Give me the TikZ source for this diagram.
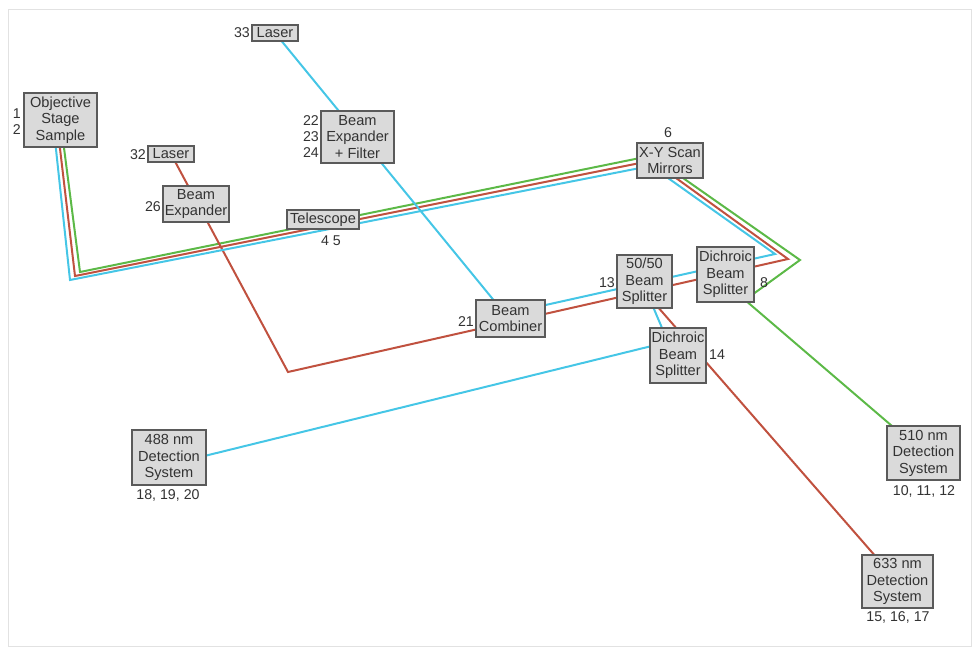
\documentclass[tikz,border=0pt]{standalone}
\usepackage{fontspec}
\setmainfont{Liberation Sans}
\usetikzlibrary{backgrounds}
\definecolor{bblue}{HTML}{45C6E6}
\definecolor{bred}{HTML}{C0513F}
\definecolor{bgreen}{HTML}{5CB947}
\definecolor{boxfill}{HTML}{DADADA}
\definecolor{boxline}{HTML}{5A5A5A}
\definecolor{txt}{HTML}{333333}
\definecolor{frame}{HTML}{E2E2E2}
\begin{document}
\begin{tikzpicture}[x=1pt,y=-1pt,
  box/.style={draw=boxline,fill=boxfill,line width=1.3pt,inner sep=0pt,align=center,text=txt,font=\fontsize{14.6}{16.5}\selectfont},
  lbl/.style={inner sep=0pt,text=txt,font=\fontsize{14.2}{16}\selectfont},
  beam/.style={line width=2pt,line join=miter}]
\useasboundingbox (0,0) rectangle (975,648);

% boxes
\node[box,minimum width=73pt,minimum height=54pt] (obj) at (60.5,120) {Objective\\Stage\\Sample};
\node[box,minimum width=46pt,minimum height=16pt] (laser33) at (275,33) {Laser};
\node[box,minimum width=73pt,minimum height=52pt] (bexf) at (357.5,137) {Beam\\Expander\\+ Filter};
\node[box,minimum width=46pt,minimum height=16pt] (laser32) at (171,154) {Laser};
\node[box,minimum width=66pt,minimum height=36pt] (bex) at (196,204) {Beam\\Expander};
\node[box,minimum width=72pt,minimum height=19pt] (tele) at (323,219.5) {Telescope};
\node[box,minimum width=66pt,minimum height=35pt] (xy) at (670,160.5) {X-Y Scan\\Mirrors};
\node[box,minimum width=55pt,minimum height=53pt] (bs) at (644.5,281.5) {50/50\\Beam\\Splitter};
\node[box,minimum width=57pt,minimum height=55pt] (dbs8) at (725.5,274.5) {Dichroic\\Beam\\Splitter};
\node[box,minimum width=69pt,minimum height=37pt] (comb) at (510.5,318.5) {Beam\\Combiner};
\node[box,minimum width=56pt,minimum height=55pt] (dbs14) at (678,355.5) {Dichroic\\Beam\\Splitter};
\node[box,minimum width=74pt,minimum height=55pt] (d488) at (169,457.5) {488 nm\\Detection\\System};
\node[box,minimum width=73pt,minimum height=54pt] (d510) at (923.5,453) {510 nm\\Detection\\System};
\node[box,minimum width=71pt,minimum height=53pt] (d633) at (897.5,581.5) {633 nm\\Detection\\System};

% labels
\node[lbl,anchor=east] (l1) at (21,114) {1};
\node[lbl,anchor=east] (l2) at (21,130) {2};
\node[lbl,anchor=east] (l33) at (250,33) {33};
\node[lbl,anchor=east] (l22) at (319,121) {22};
\node[lbl,anchor=east] (l23) at (319,137) {23};
\node[lbl,anchor=east] (l24) at (319,153) {24};
\node[lbl,anchor=east] (l32) at (146,155) {32};
\node[lbl,anchor=east] (l26) at (161,207) {26};
\node[lbl] (l45) at (331,241) {4 5};
\node[lbl] (l6) at (668,133) {6};
\node[lbl,anchor=east] (l13) at (615,283) {13};
\node[lbl,anchor=west] (l8) at (760,283) {8};
\node[lbl,anchor=east] (l21) at (474,322) {21};
\node[lbl,anchor=west] (l14) at (709,355) {14};
\node[lbl] (l18) at (168,495) {18, 19, 20};
\node[lbl] (l10) at (924,491) {10, 11, 12};
\node[lbl] (l15) at (898,617) {15, 16, 17};

% bend points
\coordinate (bO) at (55,140);
\coordinate (bK) at (70,280);
\coordinate (bXL) at (640,168);
\coordinate (bXB) at (668,178);
\coordinate (bA) at (775,254);
\coordinate (bC) at (505,314);
\coordinate (bS) at (648,295);
\coordinate (bD) at (668,342);
\coordinate (bE) at (180,462);

\coordinate (rO) at (59,140);
\coordinate (rK) at (75,276);
\coordinate (rXL) at (640,163);
\coordinate (rXB) at (676,178);
\coordinate (rA) at (788,259);
\coordinate (rL) at (288,372);
\coordinate (rS) at (650,298);

\coordinate (gO) at (63,140);
\coordinate (gK) at (80,272);
\coordinate (gXL) at (640,158);
\coordinate (gXB) at (683,178);
\coordinate (gA) at (800,260);
\coordinate (gD) at (745,300);

\begin{scope}[on background layer]
\draw[frame,line width=1pt] (8,9) rectangle (971,646);
% green
\draw[beam,bgreen] (gO) -- (gK) -- (gXL) -- (gXB) -- (gA) -- (gD) -- (d510.center);
% red
\draw[beam,bred] (rO) -- (rK) -- (rXL) -- (rXB) -- (rA) -- (rL) -- (laser32.center);
\draw[beam,bred] (rS) -- (d633.center);
% blue
\draw[beam,bblue] (bO) -- (bK) -- (bXL) -- (bXB) -- (bA) -- (bC) -- (laser33.center);
\draw[beam,bblue] (bS) -- (bD) -- (bE);
\end{scope}
\end{tikzpicture}
\end{document}
